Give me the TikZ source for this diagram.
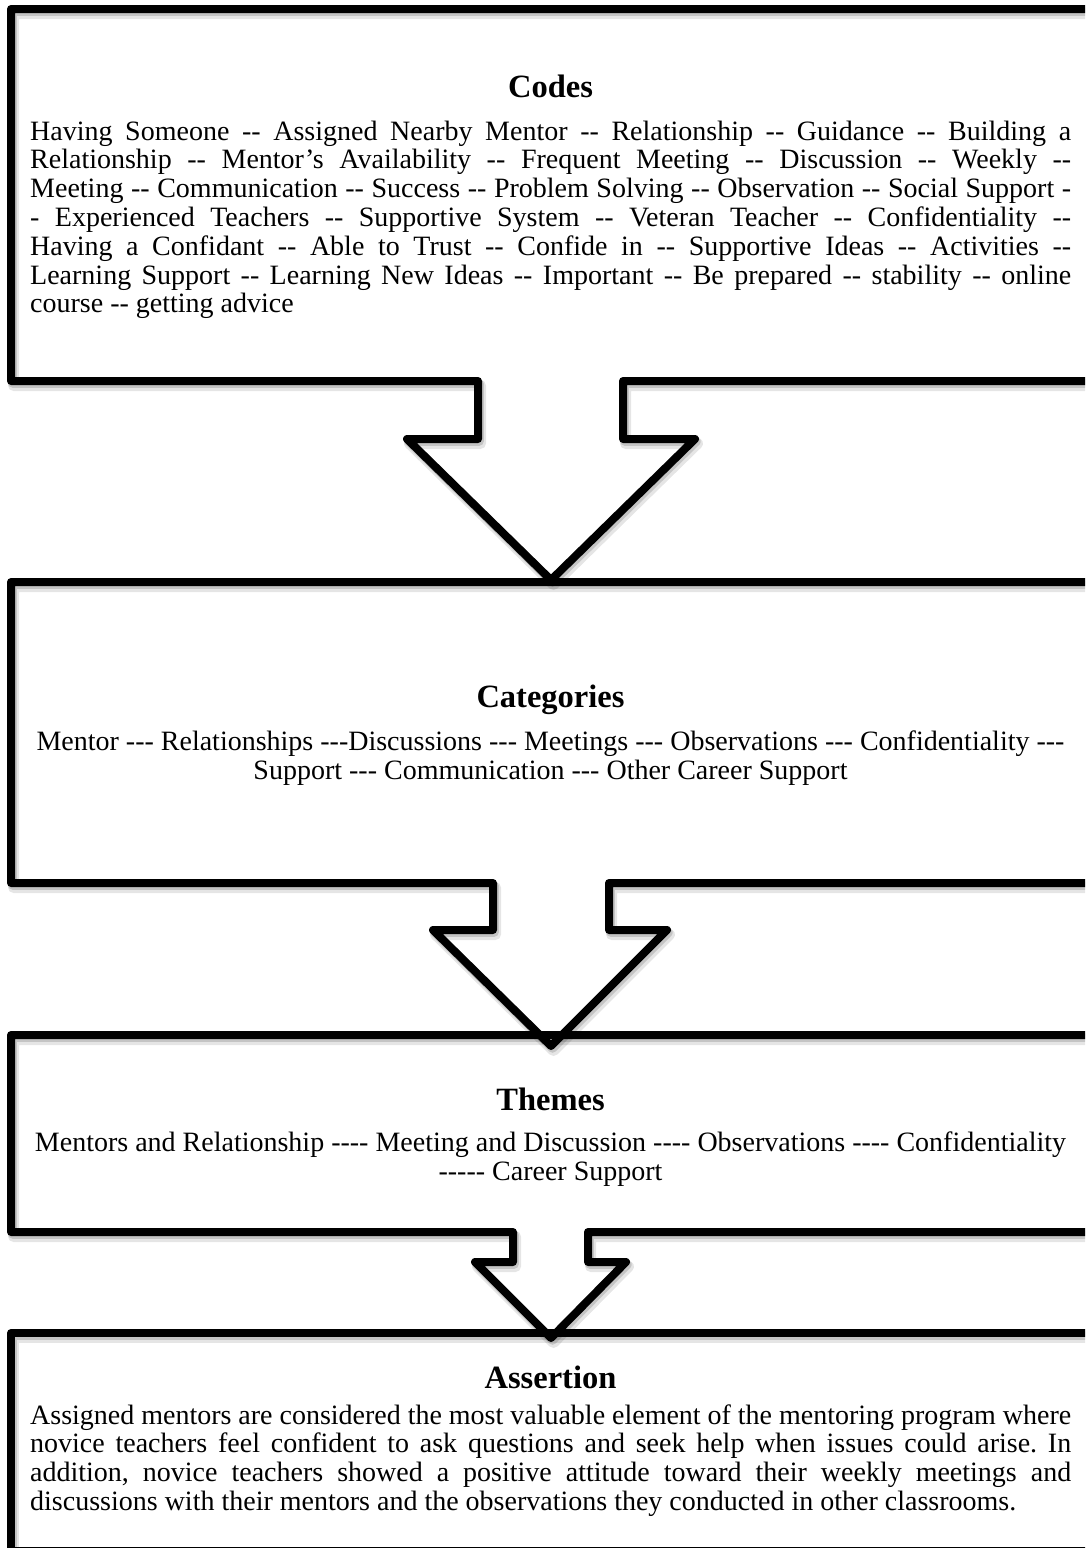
\documentclass[tikz,border=0pt]{standalone}
\usepackage{fontspec}
\setmainfont{Liberation Serif}[Ligatures=TeXOff]
\frenchspacing

\tikzset{
  frame/.style={draw=black, line width=8pt, line join=round, line cap=round},
  softshadow/.style={draw=black, line width=11pt, line join=round, line cap=round,
                     draw opacity=0.10},
  nearshadow/.style={draw=black, line width=8.5pt, line join=round, line cap=round,
                     draw opacity=0.14},
  heading/.style={anchor=base, inner sep=0pt,
                  font=\fontsize{32.5}{37}\selectfont\bfseries},
  justline/.style={anchor=base west, inner sep=0pt,
                   font=\fontsize{28}{29}\selectfont},
  lastline/.style={anchor=base west, inner sep=0pt,
                   font=\fontsize{28}{29}\selectfont},
  midline/.style={anchor=base, inner sep=0pt,
                  font=\fontsize{28}{29}\selectfont},
}

% one full-width justified line of a paragraph
\newcommand{\jline}[1]{\makebox[1041pt][s]{#1}}

% outlines: each box with the arrow that leaves its lower edge
\def\outlineA{(1120,9) -- (11,9) -- (11,381) -- (478,381) -- (478,439) -- (407,439)
  -- (551,580) -- (695,439) -- (623,439) -- (623,381) -- (1120,381)}
\def\outlineB{(1120,582) -- (11,582) -- (11,883) -- (493,883) -- (493,930) -- (433,930)
  -- (551,1046) -- (667,930) -- (609,930) -- (609,883) -- (1120,883)}
\def\outlineC{(1120,1035) -- (11,1035) -- (11,1232) -- (513,1232) -- (513,1262) -- (475,1262)
  -- (551,1338) -- (626,1262) -- (588,1262) -- (588,1232) -- (1120,1232)}
\def\outlineD{(1120,1333) -- (11,1333) -- (11,1551) -- (1120,1551)}

\begin{document}
\begin{tikzpicture}[x=1pt, y=-1pt]
  \useasboundingbox (0,0) rectangle (1085,1548);
  \clip (0,0) rectangle (1085,1548);
  \fill[white] (0,0) rectangle (1085,1548);

  % drop shadows
  \foreach \o in {\outlineA,\outlineB,\outlineC,\outlineD}{
    \draw[softshadow, shift={(2.5,4.5)}] \o;
    \draw[nearshadow, shift={(1.5,2.5)}] \o;
  }

  % frames and arrows
  \draw[frame] \outlineA;
  \draw[frame] \outlineB;
  \draw[frame] \outlineC;
  \draw[frame] \outlineD;

  % Codes
  \node[heading] (codesH) at (550.5,97.5) {Codes};
  \node[justline] (codes1) at (30,140.0) {\jline{Having Someone -- Assigned Nearby Mentor -- Relationship -- Guidance -- Building a}};
  \node[justline] (codes2) at (30,168.8) {\jline{Relationship -- Mentor’s Availability -- Frequent Meeting -- Discussion -- Weekly --}};
  \node[justline] (codes3) at (30,197.6) {\jline{Meeting -- Communication -- Success -- Problem Solving -- Observation -- Social Support -}};
  \node[justline] (codes4) at (30,226.4) {\jline{- Experienced Teachers -- Supportive System -- Veteran Teacher -- Confidentiality --}};
  \node[justline] (codes5) at (30,255.2) {\jline{Having a Confidant -- Able to Trust -- Confide in -- Supportive Ideas -- Activities --}};
  \node[justline] (codes6) at (30,284.0) {\jline{Learning Support -- Learning New Ideas -- Important -- Be prepared -- stability -- online}};
  \node[lastline] (codes7) at (30,312.8) {course -- getting advice};

  % Categories
  \node[heading] (catH) at (550.5,707.5) {Categories};
  \node[midline] (cat1) at (550.5,750.5) {Mentor --- Relationships ---Discussions --- Meetings --- Observations --- Confidentiality ---};
  \node[midline] (cat2) at (550.5,779.3) {Support --- Communication --- Other Career Support};

  % Themes
  \node[heading] (themH) at (550.5,1110.5) {Themes};
  \node[midline] (them1) at (550.5,1151.5) {Mentors and Relationship ---- Meeting and Discussion ---- Observations ---- Confidentiality};
  \node[midline] (them2) at (550.5,1180.3) {----- Career Support};

  % Assertion
  \node[heading] (assH) at (550.5,1388.5) {Assertion};
  \node[justline] (ass1) at (30,1424.0) {\jline{Assigned mentors are considered the most valuable element of the mentoring program where}};
  \node[justline] (ass2) at (30,1452.8) {\jline{novice teachers feel confident to ask questions and seek help when issues could arise. In}};
  \node[justline] (ass3) at (30,1481.6) {\jline{addition, novice teachers showed a positive attitude toward their weekly meetings and}};
  \node[lastline] (ass4) at (30,1510.4) {discussions with their mentors and the observations they conducted in other classrooms.};
\end{tikzpicture}
\end{document}
